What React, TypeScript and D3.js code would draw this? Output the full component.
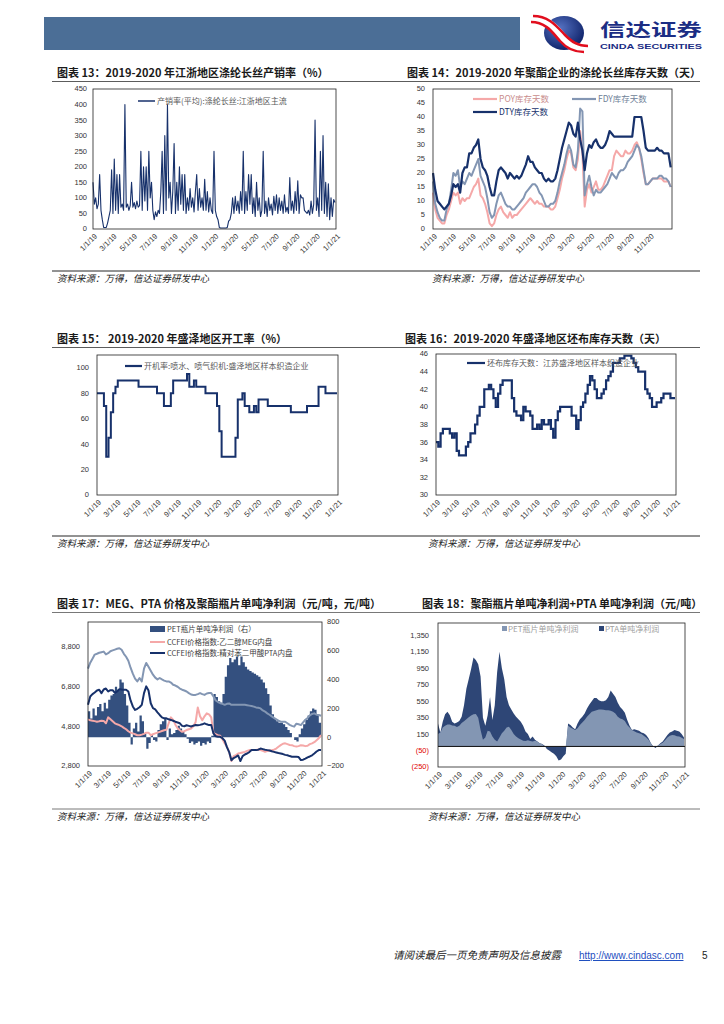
import React, { useEffect, useRef } from 'react';
import * as d3 from 'd3';

const NAVY = '#17316B';
const SLATE = '#8396B3';
const PINK = '#F5A8A8';
const BAR = '#34507F';
const SANS = "'Liberation Sans', Arial, sans-serif";
const CJK = "'Noto Sans CJK SC', 'Noto Sans', sans-serif";

const T0 = new Date(2019, 0, 1);
const T1 = new Date(2021, 0, 1);

// x tick labels
const X_TICKS = ['1/1/19', '3/1/19', '5/1/19', '7/1/19', '9/1/19', '11/1/19', '1/1/20', '3/1/20', '5/1/20', '7/1/20', '9/1/20', '11/1/20', '1/1/21'];
const X_TICKS_14 = X_TICKS.slice(0, 12);

// chart 13: 产销率, one value every 4 days from 1/1/19
const RATIO13 = [150, 80, 100, 65, 80, 175, 60, 30, 5, 5, 5, 20, 40, 60, 190, 50, 225, 60, 175, 50, 175, 70, 80, 60, 400, 70, 80, 60, 75, 150, 70, 85, 65, 90, 70, 75, 250, 60, 200, 90, 200, 60, 250, 100, 150, 60, 30, 55, 40, 60, 50, 120, 250, 50, 300, 60, 400, 100, 150, 50, 120, 275, 50, 150, 60, 200, 80, 175, 60, 175, 50, 100, 60, 130, 70, 100, 55, 120, 175, 60, 130, 70, 100, 60, 160, 60, 120, 55, 100, 60, 50, 250, 60, 40, 30, 5, 3, 3, 3, 3, 3, 5, 25, 30, 50, 100, 50, 105, 60, 90, 50, 120, 60, 250, 50, 120, 60, 175, 80, 175, 50, 100, 40, 150, 60, 100, 40, 60, 250, 50, 90, 40, 100, 60, 80, 45, 105, 60, 110, 50, 100, 60, 90, 50, 110, 55, 70, 50, 165, 60, 90, 50, 120, 60, 155, 50, 110, 100, 100, 60, 55, 50, 60, 45, 90, 50, 80, 350, 60, 100, 40, 250, 60, 300, 50, 150, 40, 145, 30, 100, 40, 95, 85];

// chart 14: weekly inventory days
const POY14 = [13, 7, 4, 3, 2, 2, 5, 7, 10, 13, 12, 13, 9, 11, 10, 11, 11, 13, 15, 16, 18, 12, 11, 9, 6, 2, 1, 2, 5, 7, 8, 6, 5, 4, 6, 4, 5, 5, 6, 7, 8, 9, 10, 11, 10, 9, 10, 9, 9, 8, 8, 8, 7, 7, 8, 11, 14, 18, 21, 25, 28, 27, 22, 21, 25, 35, 27, 8, 14, 16, 13, 15, 17, 14, 14, 15, 17, 19, 21, 21, 26, 28, 27, 26, 26, 28, 27, 27, 28, 30, 31, 29, 25, 20, 16, 16, 17, 18, 18, 18, 18, 18, 17, 17, 17, 15];
const FDY14 = [17, 9, 6, 4, 3, 3, 7, 9, 14, 20, 19, 21, 15, 17, 16, 18, 20, 19, 21, 23, 25, 19, 17, 15, 11, 6, 4, 5, 9, 12, 13, 11, 9, 8, 8, 7, 7, 8, 9, 10, 11, 13, 14, 15, 16, 16, 15, 13, 12, 10, 8, 8, 9, 9, 10, 13, 17, 20, 23, 27, 30, 28, 23, 22, 28, 43, 42, 12, 16, 19, 15, 12, 14, 13, 13, 14, 15, 16, 18, 20, 19, 18, 20, 21, 21, 22, 24, 25, 26, 28, 30, 29, 26, 21, 16, 16, 17, 18, 18, 18, 19, 19, 18, 18, 17, 15];
const DTY14 = [20, 14, 10, 9, 8, 7, 8, 9, 12, 16, 15, 16, 13, 20, 22, 22, 27, 27, 29, 30, 32, 25, 22, 21, 19, 15, 12, 12, 17, 21, 22, 21, 20, 18, 20, 19, 18, 19, 18, 19, 21, 23, 26, 24, 24, 22, 21, 20, 20, 18, 17, 18, 17, 17, 18, 21, 25, 29, 32, 35, 38, 37, 34, 33, 38, 32, 28, 21, 27, 30, 29, 31, 32, 30, 29, 29, 30, 32, 35, 34, 33, 33, 33, 33, 33, 33, 33, 33, 33, 40, 40, 40, 40, 35, 29, 28, 28, 28, 28, 29, 28, 28, 27, 27, 27, 22];

// chart 15: weekly operating rate
const RATE15 = [80, 80, 80, 70, 30, 45, 65, 80, 85, 90, 90, 90, 90, 90, 90, 90, 90, 90, 85, 85, 85, 85, 85, 85, 85, 85, 80, 80, 80, 70, 70, 70, 80, 90, 90, 90, 90, 90, 90, 95, 85, 85, 90, 85, 85, 85, 85, 80, 80, 80, 80, 80, 70, 50, 30, 30, 30, 30, 30, 30, 45, 75, 75, 80, 70, 70, 65, 65, 70, 65, 75, 75, 75, 75, 70, 70, 70, 70, 70, 70, 70, 70, 70, 70, 65, 65, 65, 65, 65, 65, 65, 70, 70, 70, 70, 70, 85, 85, 85, 80, 80, 80, 80, 80, 80];

// chart 16: weekly grey cloth inventory days
const DAYS16 = [36, 35.5, 37, 37.5, 37.5, 37.5, 37, 36.5, 37, 35, 34.5, 34.5, 34.5, 35.5, 36, 37, 37, 38, 39, 40, 40, 42, 42, 42.5, 42, 41, 40, 41.5, 42.5, 43, 43, 43, 43, 41, 39.5, 39, 39, 38.5, 40, 39.5, 39.5, 39, 37.5, 37.5, 38, 37.5, 38.5, 38, 38, 38.5, 37.5, 36.5, 38.5, 39.5, 40, 40, 40, 40, 40, 39, 39, 37.5, 38.5, 40, 40.5, 41.5, 42.5, 43.5, 43, 42, 41, 41, 41.5, 42, 43, 43.5, 44, 45, 45, 45, 45.5, 45.5, 45.8, 45.8, 45.8, 45.5, 45, 44.5, 44, 44, 44, 42, 41.5, 41, 40, 40, 40.5, 40.5, 41, 41.5, 41.5, 41.5, 41, 41, 41];

// chart 17: weekly prices (left axis) and PET profit (right axis)
const PET17 = [180, 130, 200, 150, 210, 230, 180, 240, 200, 260, 290, 300, 350, 330, 400, 380, 300, 220, 100, -50, 60, 100, 40, 150, 110, 30, -80, -40, 20, -20, -30, 50, 90, 110, 130, -20, 60, 20, 30, 50, 80, 60, 40, 20, -10, -40, -30, -50, -40, -30, -60, -40, -50, -30, -40, 10, 300, 280, 250, 240, 300, 420, 500, 550, 520, 540, 560, 500, 560, 520, 490, 470, 460, 450, 440, 430, 420, 400, 380, 340, 300, 220, 160, 130, 110, 100, 100, 90, 70, 50, 30, 0, -20, -30, 20, 60, 90, 120, 150, 180, 200, 190, 160, 100, 70];
const MEG17 = [5150, 5100, 5080, 5060, 5030, 5050, 5080, 5070, 4950, 5250, 5150, 5050, 4950, 4900, 4860, 4800, 4720, 4650, 4550, 4480, 4440, 4400, 4350, 4350, 4380, 4420, 4480, 4480, 4350, 4400, 4440, 4480, 4520, 4560, 4600, 4620, 4950, 5250, 5120, 4880, 4700, 4600, 4520, 4550, 4610, 4650, 4690, 4800, 5000, 5750, 5300, 5100, 5300, 5450, 5400, 5250, 4450, 4400, 4350, 4320, 4150, 3950, 3770, 3500, 3050, 3300, 3350, 3430, 3450, 3480, 3510, 3560, 3600, 3600, 3600, 3610, 3630, 3600, 3560, 3520, 3550, 3580, 3600, 3620, 3680, 3770, 3850, 3920, 3940, 3900, 3860, 3850, 3800, 3780, 3800, 3850, 3830, 3800, 3820, 3900, 3940, 4000, 4100, 4200, 4350];
const PTA17 = [5880, 6300, 6420, 6500, 6600, 6640, 6470, 6650, 6700, 6550, 6620, 6620, 6480, 6550, 6670, 6650, 6640, 6640, 6550, 6100, 5800, 5620, 5680, 5760, 5880, 6470, 6810, 6600, 5960, 5710, 5650, 5500, 5370, 5250, 5200, 5200, 5150, 5120, 5080, 5030, 4990, 4950, 4820, 4800, 4850, 4820, 4790, 4830, 4860, 4850, 4870, 4900, 4950, 4900, 4860, 4860, 4440, 4300, 4270, 4270, 4200, 4080, 3750, 3500, 3090, 3200, 3260, 3330, 3050, 3300, 3380, 3430, 3500, 3600, 3600, 3600, 3620, 3680, 3650, 3620, 3600, 3580, 3540, 3510, 3480, 3450, 3430, 3400, 3360, 3340, 3300, 3270, 3260, 3260, 3250, 3100, 3120, 3170, 3230, 3280, 3340, 3430, 3530, 3600, 3600];
const POLY17 = [7700, 8000, 8200, 8410, 8450, 8500, 8530, 8560, 8420, 8480, 8580, 8620, 8660, 8700, 8730, 8650, 8450, 8300, 8100, 7750, 7450, 7200, 7060, 7230, 7060, 7700, 7990, 7800, 7600, 7400, 7250, 7160, 7230, 7160, 7100, 7060, 7060, 7000, 6890, 6850, 6790, 6700, 6640, 6600, 6550, 6470, 6400, 6380, 6380, 6420, 6470, 6420, 6380, 6450, 6470, 6470, 6300, 6100, 6020, 5960, 5930, 5880, 5930, 5950, 5880, 5880, 5880, 5880, 5880, 5880, 5880, 5860, 5840, 5820, 5790, 5750, 5730, 5700, 5600, 5540, 5450, 5380, 5300, 5220, 5150, 5080, 5030, 5030, 5030, 4950, 4870, 4820, 4780, 4930, 4900, 4860, 5000, 5130, 5220, 5350, 5420, 5450, 5380, 5370, 5330];

// chart 18: weekly PET and PTA profit
const PET18 = [150, 180, 230, 250, 265, 265, 255, 250, 235, 250, 285, 305, 330, 355, 375, 390, 395, 350, 200, 80, 110, 190, 180, 120, 80, 60, 110, 160, 190, 230, 240, 200, 150, 120, 100, 85, 70, 65, 75, 65, 60, 70, 60, 50, 35, 0, -20, -30, -40, -45, -50, -60, -45, -35, -30, 250, 230, 215, 200, 220, 260, 290, 320, 360, 390, 420, 430, 440, 450, 450, 445, 440, 440, 435, 420, 400, 360, 340, 330, 310, 260, 230, 200, 185, 170, 160, 150, 130, 110, 80, 40, 10, 0, 15, 30, 45, 75, 110, 130, 140, 135, 125, 120, 105, 90];
const PTA18 = [130, -10, 70, 140, 155, 115, 45, 30, 55, 60, 75, 195, 370, 465, 565, 690, 655, 650, 650, 270, 140, 190, 420, 200, 420, 840, 1040, 790, 630, 370, 260, 250, 250, 240, 230, 215, 180, 115, 75, 25, 60, 10, 0, -10, -5, 10, -10, -20, -30, -45, -70, -110, -115, -85, -60, 30, 30, 15, 10, 60, 70, 70, 80, 100, 120, 130, 160, 150, 110, 100, 105, 120, 160, 245, 220, 200, 170, 140, 120, 100, 60, 20, 0, 25, 30, 30, 20, 30, 30, 20, 0, -10, -20, -5, 10, 15, 25, 30, 40, 40, 65, 65, 60, 45, 20];

const Y13 = d3.range(0, 451, 50);
const Y14 = d3.range(0, 51, 5);
const Y15 = d3.range(0, 101, 20);
const Y16 = d3.range(30, 47, 2);
const Y17L = [2800, 4800, 6800, 8800];
const Y17R = [-200, 0, 200, 400, 600, 800];
const Y18 = [-250, -50, 150, 350, 550, 750, 950, 1150, 1350];

type G = d3.Selection<SVGGElement, unknown, null, undefined>;
interface Box { x0: number; x1: number; y0: number; y1: number }

const parseTick = (s: string) => {
  const [m, d, y] = s.split('/').map(Number);
  return new Date(2000 + y, m - 1, d);
};
const datesEvery = (n: number, step: number) => d3.range(n).map(i => d3.timeDay.offset(T0, i * step));

function txt(g: G, x: number, y: number, s: string, o: { size?: number; anchor?: string; fill?: string; weight?: string; family?: string; style?: string } = {}) {
  return g.append('text')
    .attr('x', x).attr('y', y)
    .attr('font-size', o.size ?? 8)
    .attr('text-anchor', o.anchor ?? 'start')
    .attr('fill', o.fill ?? '#333')
    .attr('font-weight', o.weight ?? 'normal')
    .attr('font-family', o.family ?? SANS)
    .attr('font-style', o.style ?? 'normal')
    .text(s);
}

function chrome(g: G, title: string, tx: number, ty: number, srcX: number, srcY: number) {
  txt(g, tx, ty, title, { size: 11, weight: 'bold', family: CJK, fill: '#1a1a1a' });
  g.append('line').attr('x1', 52).attr('x2', 700).attr('y1', ty + 4.5).attr('y2', ty + 4.5).attr('stroke', '#555').attr('stroke-width', 0.8);
  g.append('line').attr('x1', 52).attr('x2', 700).attr('y1', srcY).attr('y2', srcY).attr('stroke', '#555').attr('stroke-width', 0.8);
  txt(g, srcX, srcY + 11, '资料来源：万得，信达证券研发中心', { size: 9.5, style: 'italic', family: CJK, fill: '#222' });
}

function frame(g: G, b: Box) {
  g.append('rect').attr('x', b.x0).attr('y', b.y0).attr('width', b.x1 - b.x0).attr('height', b.y1 - b.y0)
    .attr('fill', 'none').attr('stroke', '#222').attr('stroke-width', 0.8);
}

function xLabels(g: G, x: d3.ScaleTime<number, number>, y1: number, labels: string[]) {
  labels.forEach(l => {
    g.append('text')
      .attr('transform', `translate(${x(parseTick(l)) + 3},${y1 + 6}) rotate(-45)`)
      .attr('text-anchor', 'end').attr('dy', '0.32em')
      .attr('font-size', 7.5).attr('font-family', SANS).attr('fill', '#333')
      .text(l);
  });
}

function yLabels(g: G, y: d3.ScaleLinear<number, number>, ticks: number[], xr: number, fmt: (v: number) => string, anchor = 'end', color: (v: number) => string = () => '#333') {
  ticks.forEach(v => {
    txt(g, xr, y(v), fmt(v), { size: 7.5, anchor, fill: color(v) }).attr('dy', '0.33em');
  });
}

function chart13(root: G) {
  const g = root.append('g');
  chrome(g, '图表 13：2019-2020 年江浙地区涤纶长丝产销率（%）', 57, 77, 57, 271);
  const b = { x0: 93, x1: 336, y0: 89, y1: 229 };
  const x = d3.scaleTime().domain([T0, T1]).range([b.x0, b.x1]);
  const y = d3.scaleLinear().domain([0, 450]).range([b.y1, b.y0]);
  const dates = datesEvery(RATIO13.length, 4);
  const line = d3.line<number>().x((_, i) => x(dates[i])).y(d => y(d));
  g.append('path').attr('d', line(RATIO13)).attr('fill', 'none').attr('stroke', NAVY).attr('stroke-width', 1.1).attr('stroke-linejoin', 'round');
  frame(g, b);
  yLabels(g, y, Y13, 87, d3.format('d'));
  xLabels(g, x, b.y1, X_TICKS);
  g.append('line').attr('x1', 138).attr('x2', 155).attr('y1', 101).attr('y2', 101).attr('stroke', NAVY).attr('stroke-width', 1.5);
  txt(g, 157, 104, '产销率(平均):涤纶长丝:江浙地区主流', { size: 8, family: CJK, fill: '#595959' });
}

function chart14(root: G) {
  const g = root.append('g');
  chrome(g, '图表 14：2019-2020 年聚酯企业的涤纶长丝库存天数（天）', 407, 77, 432, 271);
  const b = { x0: 433, x1: 672, y0: 89, y1: 229 };
  const x = d3.scaleTime().domain([T0, d3.timeDay.offset(T0, 739)]).range([b.x0, b.x1]);
  const y = d3.scaleLinear().domain([0, 50]).range([b.y1, b.y0]);
  const dates = datesEvery(DTY14.length, 7);
  const line = d3.line<number>().x((_, i) => x(dates[i])).y(d => y(d));
  const series: [number[], string, number][] = [[POY14, PINK, 2], [FDY14, SLATE, 2], [DTY14, NAVY, 2.2]];
  series.forEach(([data, c, w]) => {
    g.append('path').attr('d', line(data)).attr('fill', 'none').attr('stroke', c).attr('stroke-width', w).attr('stroke-linejoin', 'round');
  });
  frame(g, b);
  yLabels(g, y, Y14, 425, d3.format('d'));
  xLabels(g, x, b.y1, X_TICKS_14);
  const leg: [string, string, number, number, string][] = [
    ['POY库存天数', PINK, 473, 99, '#C98C8C'],
    ['FDY库存天数', SLATE, 572, 99, '#6F7F98'],
    ['DTY库存天数', NAVY, 473, 112, NAVY],
  ];
  leg.forEach(([s, c, lx, ly, tc]) => {
    g.append('line').attr('x1', lx).attr('x2', lx + 24).attr('y1', ly).attr('y2', ly).attr('stroke', c).attr('stroke-width', 2.2);
    txt(g, lx + 26, ly + 3, s, { size: 8.5, family: CJK, fill: tc });
  });
}

function chart15(root: G) {
  const g = root.append('g');
  chrome(g, '图表 15：  2019-2020 年盛泽地区开工率（%）', 57, 343, 57, 536);
  const b = { x0: 97, x1: 338, y0: 355, y1: 495 };
  const x = d3.scaleTime().domain([T0, T1]).range([b.x0, b.x1]);
  const y = d3.scaleLinear().domain([0, 110]).range([b.y1, b.y0]);
  const dates = datesEvery(RATE15.length, 7);
  const line = d3.line<number>().x((_, i) => x(dates[i])).y(d => y(d)).curve(d3.curveStepAfter);
  g.append('path').attr('d', line(RATE15)).attr('fill', 'none').attr('stroke', NAVY).attr('stroke-width', 2);
  frame(g, b);
  yLabels(g, y, Y15, 89, d3.format('d'));
  xLabels(g, x, b.y1, X_TICKS);
  g.append('line').attr('x1', 125).attr('x2', 142).attr('y1', 366).attr('y2', 366).attr('stroke', NAVY).attr('stroke-width', 2.2);
  txt(g, 144, 369, '开机率:喷水、喷气织机:盛泽地区样本织造企业', { size: 8, family: CJK, fill: '#595959' });
}

function chart16(root: G) {
  const g = root.append('g');
  chrome(g, '图表 16：2019-2020 年盛泽地区坯布库存天数（天）', 405, 343, 428, 536);
  const b = { x0: 436, x1: 676, y0: 354, y1: 495 };
  const x = d3.scaleTime().domain([T0, T1]).range([b.x0, b.x1]);
  const y = d3.scaleLinear().domain([30, 46]).range([b.y1, b.y0]);
  const dates = datesEvery(DAYS16.length, 7);
  const line = d3.line<number>().x((_, i) => x(dates[i])).y(d => y(d)).curve(d3.curveStepAfter);
  g.append('path').attr('d', line(DAYS16)).attr('fill', 'none').attr('stroke', NAVY).attr('stroke-width', 2.2);
  frame(g, b);
  yLabels(g, y, Y16, 428, d3.format('d'));
  xLabels(g, x, b.y1, X_TICKS);
  g.append('line').attr('x1', 467).attr('x2', 485).attr('y1', 363).attr('y2', 363).attr('stroke', NAVY).attr('stroke-width', 2.2);
  txt(g, 487, 366, '坯布库存天数：江苏盛泽地区样本织造企业', { size: 8, family: CJK, fill: '#595959' });
}

function chart17(root: G) {
  const g = root.append('g');
  chrome(g, '图表 17：MEG、PTA 价格及聚酯瓶片单吨净利润（元/吨，元/吨）', 57, 608, 57, 809);
  const b = { x0: 88, x1: 322, y0: 622, y1: 766 };
  const x = d3.scaleTime().domain([T0, T1]).range([b.x0, b.x1]);
  const yl = d3.scaleLinear().domain([2800, 10050]).range([b.y1, b.y0]);
  const yr = d3.scaleLinear().domain([-200, 800]).range([b.y1, b.y0]);
  const dates = datesEvery(PET17.length, 7);
  const area = d3.area<number>().x((_, i) => x(dates[i])).y0(yr(0)).y1(d => yr(d)).curve(d3.curveStepAfter);
  g.append('path').attr('d', area(PET17)).attr('fill', BAR);
  const line = d3.line<number>().x((_, i) => x(dates[i])).y(d => yl(d)).curve(d3.curveLinear);
  const series: [number[], string][] = [[POLY17, SLATE], [MEG17, PINK], [PTA17, NAVY]];
  series.forEach(([data, c]) => {
    g.append('path').attr('d', line(data)).attr('fill', 'none').attr('stroke', c).attr('stroke-width', 2).attr('stroke-linejoin', 'round');
  });
  frame(g, b);
  yLabels(g, yl, Y17L, 80, d3.format(','));
  yLabels(g, yr, Y17R, 327, d3.format('d'), 'start');
  xLabels(g, x, b.y1, X_TICKS);
  g.append('rect').attr('x', 150).attr('y', 626).attr('width', 15).attr('height', 6).attr('fill', BAR);
  txt(g, 167, 632, 'PET瓶片单吨净利润（右）', { size: 7.5, family: CJK, fill: '#404040' });
  g.append('line').attr('x1', 150).attr('x2', 165).attr('y1', 642).attr('y2', 642).attr('stroke', PINK).attr('stroke-width', 2);
  txt(g, 167, 645, 'CCFEI价格指数:乙二醇MEG内盘', { size: 7.5, family: CJK, fill: '#404040' });
  g.append('line').attr('x1', 150).attr('x2', 165).attr('y1', 653).attr('y2', 653).attr('stroke', NAVY).attr('stroke-width', 2);
  txt(g, 167, 656, 'CCFEI价格指数:精对苯二甲酸PTA内盘', { size: 7.5, family: CJK, fill: '#404040' });
}

function chart18(root: G) {
  const g = root.append('g');
  txt(g, 422, 608, '图表 18：聚酯瓶片单吨净利润+PTA 单吨净利润（元/吨）', { size: 11, weight: 'bold', family: CJK, fill: '#1a1a1a' });
  txt(g, 428, 820, '资料来源：万得，信达证券研发中心', { size: 9.5, style: 'italic', family: CJK, fill: '#222' });
  const b = { x0: 438, x1: 685, y0: 623, y1: 767 };
  const x = d3.scaleTime().domain([T0, T1]).range([b.x0, b.x1]);
  const y = d3.scaleLinear().domain([-250, 1500]).range([b.y1, b.y0]);
  const dates = datesEvery(PET18.length, 7);
  const total = PET18.map((v, i) => v + PTA18[i]);
  const dark = d3.area<number>().x((_, i) => x(dates[i])).y0(y(0)).y1(d => y(d));
  g.append('path').attr('d', dark(total)).attr('fill', '#2E4676');
  const light = d3.area<number>().x((_, i) => x(dates[i])).y0(y(0))
    .y1((d, i) => y(d > 0 ? Math.max(0, Math.min(d, total[i])) : 0));
  g.append('path').attr('d', light(PET18)).attr('fill', SLATE);
  g.append('line').attr('x1', b.x0).attr('x2', b.x1).attr('y1', y(0)).attr('y2', y(0)).attr('stroke', '#111').attr('stroke-width', 1);
  frame(g, b);
  const fmt = (v: number) => (v < 0 ? `(${d3.format(',')(-v)})` : d3.format(',')(v));
  yLabels(g, y, Y18, 429, fmt, 'end', v => (v < 0 ? '#E00000' : '#333'));
  xLabels(g, x, b.y1, X_TICKS);
  g.append('rect').attr('x', 502).attr('y', 626).attr('width', 5).attr('height', 5).attr('fill', SLATE);
  txt(g, 508, 632, 'PET瓶片单吨净利润', { size: 8, family: CJK, fill: '#A0A0A0' });
  g.append('rect').attr('x', 599).attr('y', 626).attr('width', 5).attr('height', 5).attr('fill', '#2E4676');
  txt(g, 605, 632, 'PTA单吨净利润', { size: 8, family: CJK, fill: '#A0A0A0' });
}

export default function App() {
  const ref = useRef<SVGSVGElement>(null);

  useEffect(() => {
    if (!ref.current) return;
    const svg = d3.select(ref.current);
    svg.selectAll('g.charts').remove();
    const root = svg.append('g').attr('class', 'charts') as unknown as G;
    chart13(root);
    chart14(root);
    chart15(root);
    chart16(root);
    chart17(root);
    chart18(root);
  }, []);

  return (
    <svg ref={ref} width={724} height={1024} style={{ position: 'absolute', left: 0, top: 0, background: '#fff' }}>
      <defs>
        <radialGradient id="logoGrad" cx="40%" cy="35%" r="70%">
          <stop offset="0" stopColor="#5572C2" />
          <stop offset="1" stopColor="#0C1F66" />
        </radialGradient>
      </defs>
      <rect x={44} y={17} width={476} height={33} fill="#4B6E96" />
      <ellipse cx={564} cy={33} rx={20} ry={17} fill="url(#logoGrad)" />
      <path d="M533 19 C 548 19, 556 30, 563 38 S 576 49, 586 49" stroke="#fff" strokeWidth={9} fill="none" />
      <path d="M533 16 C 550 16, 558 28, 565 35 S 578 46, 588 46" stroke="#E10E1E" strokeWidth={2.5} fill="none" />
      <path d="M531 22 C 546 22, 553 33, 560 41 S 574 52, 584 52" stroke="#E10E1E" strokeWidth={2.5} fill="none" />
      <text x={600} y={36} fontSize={17} fontWeight="bold" fill="#1B2D84" fontFamily={CJK} textLength={102} lengthAdjust="spacingAndGlyphs">信达证券</text>
      <text x={600} y={49} fontSize={8} fontWeight="bold" fill="#1B2D84" fontFamily={SANS} textLength={102} lengthAdjust="spacingAndGlyphs">CINDA SECURITIES</text>
      <text x={393} y={959} fontSize={10.5} fill="#222" fontFamily={CJK} fontStyle="italic">请阅读最后一页免责声明及信息披露</text>
      <text x={579} y={959} fontSize={10} fill="#1F4FBF" fontFamily={SANS} textDecoration="underline">http://www.cindasc.com</text>
      <text x={702} y={959} fontSize={10} fill="#222" fontFamily={SANS}>5</text>
    </svg>
  );
}
